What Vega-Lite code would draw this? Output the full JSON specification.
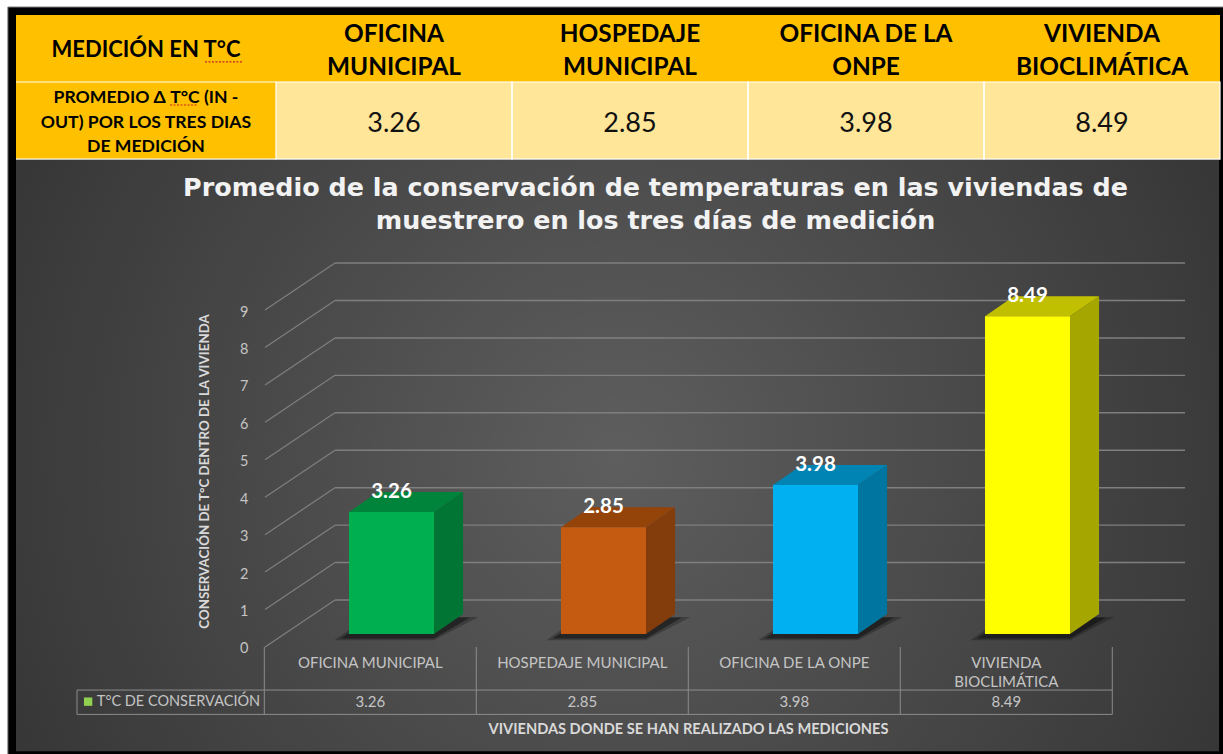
{
"$schema":"https://vega.github.io/schema/vega-lite/v6.json",
"width":1223,"height":754,"padding":0,"autosize":{"type":"none"},"background":"#ffffff",
"view":{"stroke":null},
"title":{"text":["Promedio de la conservación de temperaturas en las viviendas de","muestrero en los tres días de medición"],"frame":"group","anchor":"middle","offset":-254,"dx":44,"baseline":"alphabetic","font":"DejaVu Sans","fontWeight":"bold","fontSize":25.4,"lineHeight":33,"color":"#f2f2f2"},
"datasets":{
"bars":[
{"i":1,"name":"OFICINA MUNICIPAL","value":3.26},
{"i":2,"name":"HOSPEDAJE MUNICIPAL","value":2.85},
{"i":3,"name":"OFICINA DE LA ONPE","value":3.98},
{"i":4,"name":"VIVIENDA\nBIOCLIMÁTICA","value":8.49}],
"cells":[
{"col":0,"row":1,"text":"MEDICIÓN EN T°C"},
{"col":1,"row":1,"text":"OFICINA\nMUNICIPAL"},
{"col":2,"row":1,"text":"HOSPEDAJE\nMUNICIPAL"},
{"col":3,"row":1,"text":"OFICINA DE LA\nONPE"},
{"col":4,"row":1,"text":"VIVIENDA\nBIOCLIMÁTICA"},
{"col":0,"row":2,"text":"PROMEDIO Δ T°C (IN -\nOUT) POR LOS TRES DIAS\nDE MEDICIÓN"},
{"col":1,"row":2,"text":"3.26"},
{"col":2,"row":2,"text":"2.85"},
{"col":3,"row":2,"text":"3.98"},
{"col":4,"row":2,"text":"8.49"}],
"levels":[{"v":0},{"v":1},{"v":2},{"v":3},{"v":4},{"v":5},{"v":6},{"v":7},{"v":8},{"v":9}],
"edges":[{"e":0},{"e":1},{"e":2},{"e":3},{"e":4}]
},
"layer":[
{"layer":[
{"data":{"values":[{"panel":"frame"}]},"mark":{"type":"rect","fill":"#000000","stroke":"#777777","strokeWidth":1},
 "encoding":{"x":{"datum":-0.136,"type":"quantitative","scale":{"domain":[-0.1695,5.0127],"nice":false,"zero":false},"axis":null},"x2":{"datum":5.2},"y":{"datum":-0.119,"type":"quantitative","scale":{"domain":[11.03,-0.224],"nice":false,"zero":false},"axis":null},"y2":{"datum":11.5}}},
{"data":{"values":[{"panel":"plot"}]},"mark":{"type":"rect","fill":{"gradient":"radial","x1":0.5,"y1":0.5,"x2":0.5,"y2":0.5,"r1":0,"r2":0.72,"stops":[{"offset":0,"color":"#5e5e5e"},{"offset":1,"color":"#2b2b2b"}]}},
 "encoding":{"x":{"datum":-0.1017,"type":"quantitative","axis":null},"x2":{"datum":4.996},"y":{"datum":2.16,"type":"quantitative","axis":null},"y2":{"datum":10.99}}},
{"data":{"name":"cells"},"transform":[{"calculate":"datum.col==0?-0.1017:datum.col","as":"x0"},{"calculate":"datum.col==0?1:datum.col+1","as":"x1"},{"calculate":"datum.row==1?0:1","as":"y0"},{"calculate":"datum.row==1?1:2.15","as":"y1"},{"calculate":"datum.row==1||datum.col==0?'head':'body'","as":"kind"}],
 "mark":{"type":"rect"},
 "encoding":{"x":{"field":"x0","type":"quantitative","axis":null},"x2":{"field":"x1"},"y":{"field":"y0","type":"quantitative","axis":null},"y2":{"field":"y1"},"color":{"field":"kind","type":"nominal","legend":null,"scale":{"domain":["head","body"],"range":["#FFC000","#FFE699"]}}}},
{"data":{"name":"cells"},"transform":[{"filter":"datum.row==2&&datum.col>0"},{"calculate":"datum.col+1","as":"x1"}],
 "mark":{"type":"rect","fillOpacity":0,"stroke":"#ffffff","strokeWidth":1.2},
 "encoding":{"x":{"field":"col","type":"quantitative","axis":null},"x2":{"field":"x1"},"y":{"datum":1,"type":"quantitative","axis":null},"y2":{"datum":2.15}}},
{"data":{"values":[{"line":1},{"line":2.15}]},
 "mark":{"type":"rule","color":"#ffffff","strokeWidth":1.2},
 "encoding":{"x":{"datum":-0.1017,"type":"quantitative","axis":null},"x2":{"datum":1},"y":{"field":"line","type":"quantitative","axis":null}}},
{"data":{"name":"cells"},"transform":[{"filter":"datum.row==1&&datum.col>0"},{"calculate":"datum.col+0.5","as":"cx"}],
 "mark":{"type":"text","font":"Lato","fontWeight":"bold","fontSize":24.4,"lineBreak":"\n","lineHeight":33,"color":"#000000","align":"center","baseline":"middle"},
 "encoding":{"x":{"field":"cx","type":"quantitative","axis":null},"y":{"datum":0.3,"type":"quantitative","axis":null},"text":{"field":"text","type":"nominal"}}},
{"data":{"name":"cells"},"transform":[{"filter":"datum.row==1&&datum.col==0"}],
 "mark":{"type":"text","font":"Lato","fontWeight":"bold","fontSize":22,"color":"#000000","align":"center","baseline":"middle"},
 "encoding":{"x":{"datum":0.449,"type":"quantitative","axis":null},"y":{"datum":0.525,"type":"quantitative","axis":null},"text":{"field":"text","type":"nominal"}}},
{"data":{"name":"cells"},"transform":[{"filter":"datum.row==2&&datum.col==0"}],
 "mark":{"type":"text","font":"Lato","fontWeight":"bold","fontSize":17.6,"lineBreak":"\n","lineHeight":24.5,"color":"#000000","align":"center","baseline":"middle"},
 "encoding":{"x":{"datum":0.449,"type":"quantitative","axis":null},"y":{"datum":1.245,"type":"quantitative","axis":null},"text":{"field":"text","type":"nominal"}}},
{"data":{"name":"cells"},"transform":[{"filter":"datum.row==2&&datum.col>0"},{"calculate":"datum.col+0.5","as":"cx"}],
 "mark":{"type":"text","font":"Lato","fontSize":27,"color":"#111111","align":"center","baseline":"middle"},
 "encoding":{"x":{"field":"cx","type":"quantitative","axis":null},"y":{"datum":1.62,"type":"quantitative","axis":null},"text":{"field":"text","type":"nominal"}}},
{"data":{"values":[{"word":"T°C","a":0.699,"b":0.856,"r":0.7},{"word":"T°C","a":0.551,"b":0.669,"r":1.343}]},
 "mark":{"type":"rule","color":"#d02020","strokeWidth":1.2,"strokeDash":[2,1.5]},
 "encoding":{"x":{"field":"a","type":"quantitative","axis":null},"x2":{"field":"b"},"y":{"field":"r","type":"quantitative","axis":null}}}
]},
{"data":{"name":"levels"},"transform":[{"calculate":"datum.v+1.255","as":"w"}],
 "mark":{"type":"rule","color":"#7f7f7f","strokeWidth":1.4},
 "encoding":{"x":{"datum":0.7335,"type":"quantitative","scale":{"domain":[-0.8467,4.9222],"nice":false,"zero":false},"axis":{"zindex":1,"labels":false,"ticks":false,"domain":false,"grid":false,"title":"VIVIENDAS DONDE SE HAN REALIZADO LAS MEDICIONES","titleX":688,"titleY":-33,"titleFont":"Lato","titleFontSize":14.6,"titleFontWeight":"bold","titleColor":"#d9d9d9","titleAlign":"center"}},
  "x2":{"datum":4.743},
  "y":{"field":"w","type":"quantitative","scale":{"domain":[-2.858,17.281],"nice":false,"zero":false},"axis":{"zindex":1,"values":[0,1,2,3,4,5,6,7,8,9],"offset":-252,"orient":"left","domain":false,"ticks":false,"grid":false,"labelPadding":4,"labelOffset":2,"labelFont":"Lato","labelFontSize":14.5,"labelColor":"#c4c4c4","title":"CONSERVACIÓN DE T°C DENTRO DE LA VIVIENDA","titleX":-48,"titleY":471,"titleAngle":270,"titleFont":"Lato","titleFontSize":13.3,"titleFontWeight":"bold","titleColor":"#d9d9d9","titleAlign":"center","titleBaseline":"middle"}}}},
{"layer":[
{"data":{"name":"levels"},"transform":[{"calculate":"datum.v+1.255","as":"w"}],
 "mark":{"type":"rule","color":"#7f7f7f","strokeWidth":1.2},
 "encoding":{"x":{"datum":0.4033,"type":"quantitative","scale":{"domain":[-0.8467,4.9222],"nice":false,"zero":false},"axis":null},"x2":{"datum":0.7335},"y":{"field":"v","type":"quantitative","scale":{"domain":[-2.858,17.281],"nice":false,"zero":false},"axis":null},"y2":{"field":"w"}}},
{"data":{"name":"edges"},"transform":[{"calculate":"datum.e+0.4","as":"x"}],
 "mark":{"type":"rule","color":"#8c8c8c","strokeWidth":1},
 "encoding":{"x":{"field":"x","type":"quantitative","axis":null},"y":{"datum":0,"type":"quantitative","axis":null},"y2":{"datum":-1.8}}},
{"data":{"values":[{"line":-1.15},{"line":-1.8}]},
 "mark":{"type":"rule","color":"#8c8c8c","strokeWidth":1},
 "encoding":{"x":{"datum":-0.4835,"type":"quantitative","axis":null},"x2":{"datum":4.4},"y":{"field":"line","type":"quantitative","axis":null}}},
{"data":{"values":[{"box":"legend"}]},
 "mark":{"type":"rule","color":"#8c8c8c","strokeWidth":1},
 "encoding":{"x":{"datum":-0.4835,"type":"quantitative","axis":null},"y":{"datum":-1.15,"type":"quantitative","axis":null},"y2":{"datum":-1.8}}},
{"data":{"name":"bars"},"transform":[{"calculate":"[0,1]","as":"t"},{"flatten":["t"]},{"calculate":"0.18+0.62*datum.t","as":"sy"},{"calculate":"datum.i-0.27+0.16*datum.t","as":"a"},{"calculate":"datum.i+0.2+0.21*datum.t","as":"b"}],
 "mark":{"type":"area","orient":"horizontal","color":"#000000","opacity":0.25},
 "encoding":{"y":{"field":"sy","type":"quantitative","axis":null,"stack":null},"x":{"field":"a","type":"quantitative","axis":null},"x2":{"field":"b"},"detail":{"field":"i"}}},
{"data":{"name":"bars"},"transform":[{"calculate":"[0,1]","as":"t"},{"flatten":["t"]},{"calculate":"0.23+0.56*datum.t","as":"sy"},{"calculate":"datum.i-0.24+0.15*datum.t","as":"a"},{"calculate":"datum.i+0.2+0.17*datum.t","as":"b"}],
 "mark":{"type":"area","orient":"horizontal","color":"#000000","opacity":0.4},
 "encoding":{"y":{"field":"sy","type":"quantitative","axis":null,"stack":null},"x":{"field":"a","type":"quantitative","axis":null},"x2":{"field":"b"},"detail":{"field":"i"}}},
{"data":{"name":"bars"},"transform":[{"calculate":"[0,1]","as":"t"},{"flatten":["t"]},{"calculate":"datum.i+0.2005+0.137*datum.t","as":"sx"},{"calculate":"datum.value+0.347+0.534*datum.t","as":"sy"},{"calculate":"0.347+0.534*datum.t","as":"sb"},{"calculate":"datum.i+'s'","as":"face"}],
 "mark":{"type":"area"},
 "encoding":{"x":{"field":"sx","type":"quantitative","axis":null},"y":{"field":"sy","type":"quantitative","axis":null,"stack":null},"y2":{"field":"sb"},"color":{"field":"face","type":"nominal","legend":null,"scale":{"domain":["1f","1s","1t","2f","2s","2t","3f","3s","3t","4f","4s","4t"],"range":["#00B050","#007534","#00843C","#C55A11","#833C0B","#944309","#00B0F0","#0075A0","#0084B4","#FFFF00","#A6A600","#C0C000"]}}}},
{"data":{"name":"bars"},"transform":[{"calculate":"[0,1]","as":"t"},{"flatten":["t"]},{"calculate":"datum.i-0.2005+0.137*datum.t","as":"a"},{"calculate":"datum.i+0.2005+0.137*datum.t","as":"b"},{"calculate":"datum.value+0.347+0.534*datum.t","as":"sy"},{"calculate":"datum.i+'t'","as":"face"}],
 "mark":{"type":"area","orient":"horizontal"},
 "encoding":{"y":{"field":"sy","type":"quantitative","axis":null,"stack":null},"x":{"field":"a","type":"quantitative","axis":null},"x2":{"field":"b"},"color":{"field":"face","type":"nominal","legend":null}}},
{"data":{"name":"bars"},"transform":[{"calculate":"datum.i-0.2005","as":"a"},{"calculate":"datum.i+0.2005","as":"b"},{"calculate":"datum.value+0.347","as":"top"},{"calculate":"datum.i+'f'","as":"face"}],
 "mark":{"type":"rect"},
 "encoding":{"x":{"field":"a","type":"quantitative","axis":null},"x2":{"field":"b"},"y":{"field":"top","type":"quantitative","axis":null},"y2":{"datum":0.347},"color":{"field":"face","type":"nominal","legend":null}}},
{"data":{"name":"bars"},"transform":[{"calculate":"datum.value+0.347+0.534","as":"top"}],
 "mark":{"type":"text","font":"Lato","fontWeight":"bold","fontSize":20.5,"color":"#ffffff","align":"center","baseline":"middle"},
 "encoding":{"x":{"field":"i","type":"quantitative","axis":null},"y":{"field":"top","type":"quantitative","axis":null},"text":{"field":"value","type":"quantitative","format":".2f"}}},
{"data":{"name":"bars"},"transform":[{"calculate":"datum.i-0.1","as":"cx"}],
 "mark":{"type":"text","font":"Lato","fontSize":15,"color":"#c4c4c4","align":"center","baseline":"top","lineBreak":"\n","lineHeight":19},
 "encoding":{"x":{"field":"cx","type":"quantitative","axis":null},"y":{"datum":-0.25,"type":"quantitative","axis":null},"text":{"field":"name","type":"nominal"}}},
{"data":{"name":"bars"},"transform":[{"calculate":"datum.i-0.1","as":"cx"}],
 "mark":{"type":"text","font":"Lato","fontSize":15,"color":"#c4c4c4","align":"center","baseline":"middle"},
 "encoding":{"x":{"field":"cx","type":"quantitative","axis":null},"y":{"datum":-1.47,"type":"quantitative","axis":null},"text":{"field":"value","type":"quantitative","format":".2f"}}},
{"data":{"values":[{"series":"T°C DE CONSERVACIÓN"}]},
 "mark":{"type":"point","shape":"square","filled":true,"size":70,"color":"#92D050","opacity":1},
 "encoding":{"x":{"datum":-0.431,"type":"quantitative","axis":null},"y":{"datum":-1.46,"type":"quantitative","axis":null}}},
{"data":{"values":[{"series":"T°C DE CONSERVACIÓN"}]},
 "mark":{"type":"text","font":"Lato","fontSize":14.5,"color":"#c4c4c4","align":"left","baseline":"middle"},
 "encoding":{"x":{"datum":-0.39,"type":"quantitative","axis":null},"y":{"datum":-1.46,"type":"quantitative","axis":null},"text":{"field":"series","type":"nominal"}}}
]}
],
"resolve":{"scale":{"x":"independent","y":"independent","color":"independent"},"axis":{"x":"independent","y":"independent"}}
}
